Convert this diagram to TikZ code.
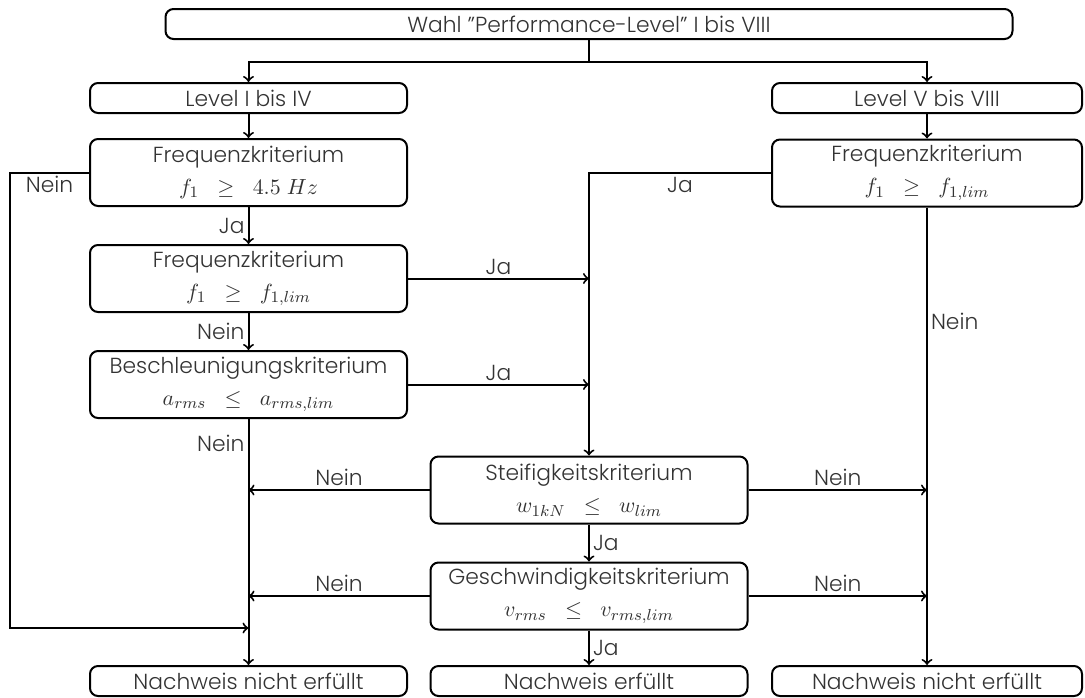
\documentclass[tikz,border=0pt]{standalone}
\usepackage{amsmath}
\usepackage{fontspec}
\setmainfont{Poppins}[UprightFont=* Light]
\usepackage{tikz}

\begin{document}
\begin{tikzpicture}[>=to,x=0.5pt,y=-0.5pt,line width=1pt]

        % Styles
        \tikzset{
          box/.style={draw,rounded corners=4pt,inner sep=0pt,
                      minimum width=158.5pt,minimum height=15pt,
                      align=center,text=black!80,
                      font=\fontsize{10.9}{13}\selectfont},
          test/.style={box,minimum height=33.5pt},
          lbl/.style={text=black!80,inner sep=1.5pt,
                      font=\fontsize{10.9}{13}\selectfont}
        }

        \useasboundingbox (0,0) rectangle (1085,697);

        % x-coordinates for columns
        \def\xA{248.5}   % left column
        \def\xM{589}     % middle column
        \def\xB{927}     % right column

        %-------------------------------
        % Start and level choice
        %-------------------------------
        \node[box,minimum width=423.5pt] (wahl) at (\xM,24)
        {Wahl ''Performance-Level'' I bis VIII};

        \node[box] (lvlA) at (\xA,98) {Level I bis IV};
        \node[box,minimum width=155pt] (lvlB) at (\xB,98) {Level V bis VIII};

        \coordinate (fork) at (\xM,62);
        \draw (wahl) -- (fork);
        \draw[->] (fork) -| (lvlA);
        \draw[->] (fork) -| (lvlB);

        %-------------------------------
        % Criteria
        %-------------------------------
        \node[test] (frqA) at (\xA,172.5)
        {Frequenzkriterium\\[3pt] $f_1 \;\;\geq\;\; 4.5\;Hz$};
        \node[test,minimum width=155pt] (frqB) at (\xB,173)
        {Frequenzkriterium\\[3pt] $f_1 \;\;\geq\;\; f_{1,lim}$};
        \node[test] (frqC) at (\xA,278.5)
        {Frequenzkriterium\\[3pt] $f_1 \;\;\geq\;\; f_{1,lim}$};
        \node[test] (acc) at (\xA,384.5)
        {Beschleunigungskriterium\\[3pt] $a_{rms} \;\;\leq\;\; a_{rms,lim}$};
        \node[test] (stiff) at (\xM,490)
        {Steifigkeitskriterium\\[3pt] $w_{1kN} \;\;\leq\;\; w_{lim}$};
        \node[test] (vel) at (\xM,596)
        {Geschwindigkeitskriterium\\[3pt] $v_{rms} \;\;\leq\;\; v_{rms,lim}$};

        %-------------------------------
        % Results
        %-------------------------------
        \node[box] (nokA) at (\xA,681) {Nachweis nicht erfüllt};
        \node[box] (ok) at (\xM,681) {Nachweis erfüllt};
        \node[box,minimum width=155pt] (nokB) at (\xB,681) {Nachweis nicht erfüllt};

        %-------------------------------
        % Left column
        %-------------------------------
        \draw[->] (lvlA) -- (frqA);
        \draw[->] (frqA) -- (frqC) node[lbl,left,midway] {Ja};
        \draw[->] (frqC) -- (acc) node[lbl,left,midway] {Nein};
        \draw[->] (acc) -- (nokA) node[lbl,left,pos=0.1] {Nein};

        \coordinate (loopA) at (10,628);
        \coordinate (joinA) at (\xA,628);
        \draw[->] (frqA.west) -| node[lbl,below,pos=0.25] {Nein} (loopA) -- (joinA);

        %-------------------------------
        % Right column
        %-------------------------------
        \draw[->] (lvlB) -- (frqB);
        \draw[->] (frqB) -- (nokB) node[lbl,right,pos=0.25] {Nein};
        \draw[->] (frqB.west) -| node[lbl,below,pos=0.25] {Ja} (stiff);

        %-------------------------------
        % Middle column
        %-------------------------------
        \draw[->] (frqC) -- (frqC -| stiff) node[lbl,above,midway] {Ja};
        \draw[->] (acc) -- (acc -| stiff) node[lbl,above,midway] {Ja};

        \draw[->] (stiff) -- (stiff -| acc) node[lbl,above,midway] {Nein};
        \draw[->] (stiff) -- (stiff -| frqB) node[lbl,above,midway] {Nein};
        \draw[->] (vel) -- (vel -| acc) node[lbl,above,midway] {Nein};
        \draw[->] (vel) -- (vel -| frqB) node[lbl,above,midway] {Nein};

        \draw[->] (stiff) -- (vel) node[lbl,right,midway] {Ja};
        \draw[->] (vel) -- (ok) node[lbl,right,midway] {Ja};

\end{tikzpicture}
\end{document}
